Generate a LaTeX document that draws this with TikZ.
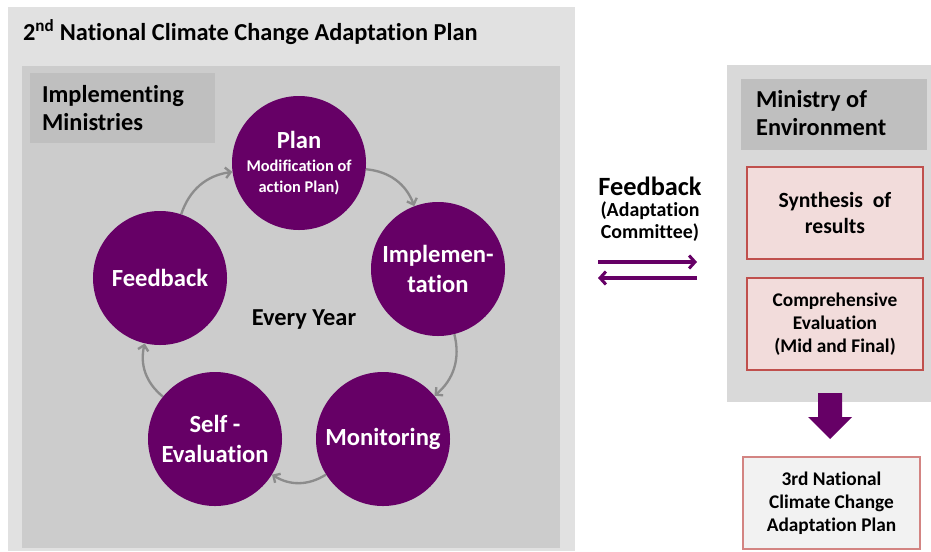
\documentclass[tikz,border=0pt]{standalone}
\usepackage{fontspec}
\setmainfont{Carlito}[Ligatures=NoCommon]
\usetikzlibrary{calc, positioning, arrows.meta}
\definecolor{cyclepurple}{RGB}{102,0,102}
\definecolor{outergray}{RGB}{225,225,225}
\definecolor{innergray}{RGB}{204,204,204}
\definecolor{labelgray}{RGB}{191,191,191}
\definecolor{rightgray}{RGB}{217,217,217}
\definecolor{arrowgray}{RGB}{140,140,140}
\definecolor{boxpink}{RGB}{242,220,219}
\definecolor{boxred}{RGB}{192,80,77}
\definecolor{planfill}{RGB}{242,242,242}
\newcommand{\mybigfont}{\bfseries\fontsize{20.8}{24}\selectfont}
\newcommand{\mysmallfont}{\bfseries\fontsize{14}{16.5}\selectfont}
\newcommand{\myboxfont}{\bfseries\fontsize{16.5}{19.4}\selectfont}

\begin{document}
\begin{tikzpicture}[x=0.03cm, y=-0.03cm,
	stage/.style={circle, fill=cyclepurple, minimum size=4.02cm, inner sep=0pt,
		text=white, align=center, font=\bfseries\fontsize{21}{25}\selectfont},
	cyclearrow/.style={draw=arrowgray, line width=2pt,
		-{Straight Barb[length=4.5pt, width=9pt, line width=2pt]}},
	fbarrow/.style={draw=cyclepurple, line width=2.6pt,
		-{Straight Barb[length=5pt, width=11pt, line width=2.6pt]}},
	resultbox/.style={draw=boxred, fill=boxpink, line width=1pt, align=center,
		minimum width=5.28cm, minimum height=2.76cm, inner sep=0pt}]
	%Picture size
	\useasboundingbox (0,0) rectangle (931,551);
	%Left panels
	\fill[outergray] (8,7) rectangle (575,551);
	\fill[innergray] (22,66) rectangle (560,548);
	\fill[labelgray] (30,73) rectangle (215,143);
	\node[anchor=west, font=\mybigfont] (title) at (19,32)
		{2\textsuperscript{nd} National Climate Change Adaptation Plan};
	\node[anchor=west, align=left, font=\mybigfont] (ministries) at (38,108)
		{Implementing\\Ministries};
	%Right panels
	\fill[rightgray] (727,65) rectangle (931,402);
	\fill[labelgray] (741,79) rectangle (927,150);
	\node[anchor=west, align=left, font=\mybigfont] (moe) at (752,113)
		{Ministry of\\Environment};
	%Centres of the cycle
	\coordinate (cplan) at (299,163);
	\coordinate (cimpl) at (438,269);
	\coordinate (cmoni) at (383,439);
	\coordinate (cself) at (215,439);
	\coordinate (cfeed) at (160,278);
	%The cycle
	\node[stage] (plan) at (cplan) {Plan\\[-5.3pt]
		\mysmallfont Modification of\\[-7.7pt]\mysmallfont action Plan)};
	\node[stage] (impl) at (cimpl) {Implemen-\\tation};
	\node[stage] (moni) at (cmoni) {Monitoring};
	\node[stage] (self) at (cself) {Self -\\Evaluation};
	\node[stage] (feed) at (cfeed) {Feedback};
	\node[font=\mybigfont] (year) at (304,320) {Every Year};
	\draw[cyclearrow] (plan) to[bend left=32] (impl);
	\draw[cyclearrow] (impl) to[bend left=32] (moni);
	\draw[cyclearrow] (moni) to[bend left=32] (self);
	\draw[cyclearrow] (self) to[bend left=32] (feed);
	\draw[cyclearrow] (feed) to[bend left=32] (plan);
	%Feedback between the two sides
	\node[align=center, font=\bfseries\fontsize{22.5}{26}\selectfont] (fbtext) at (650,186) {Feedback};
	\node[align=center, font=\bfseries\fontsize{17}{19}\selectfont, below=-2pt of fbtext]
		(committee) {(Adaptation\\Committee)};
	\coordinate (fbL1) at (598,262);
	\coordinate (fbR1) at (697,262);
	\coordinate (fbL2) at (598,278);
	\coordinate (fbR2) at (697,278);
	\draw[fbarrow] (fbL1) -- (fbR1);
	\draw[fbarrow] (fbR2) -- (fbL2);
	%Ministry of Environment boxes
	\node[resultbox, font=\bfseries\fontsize{18.5}{21.5}\selectfont] (synth) at (835,213)
		{Synthesis\ \ of\\results};
	\node[resultbox, font=\myboxfont] (compr) at (835,324)
		{Comprehensive\\Evaluation\\(Mid and Final)};
	%Block arrow down
	\fill[cyclepurple] (818,393) -- (842,393) -- (842,417) -- (852,417)
		-- (830,439) -- (808,417) -- (818,417) -- cycle;
	\node[resultbox, fill=planfill, draw=boxred!70, minimum width=5.31cm,
		font=\bfseries\fontsize{16.5}{19.6}\selectfont] (third) at (831.5,503)
		{3rd National\\Climate Change\\Adaptation Plan};
\end{tikzpicture}
\end{document}
